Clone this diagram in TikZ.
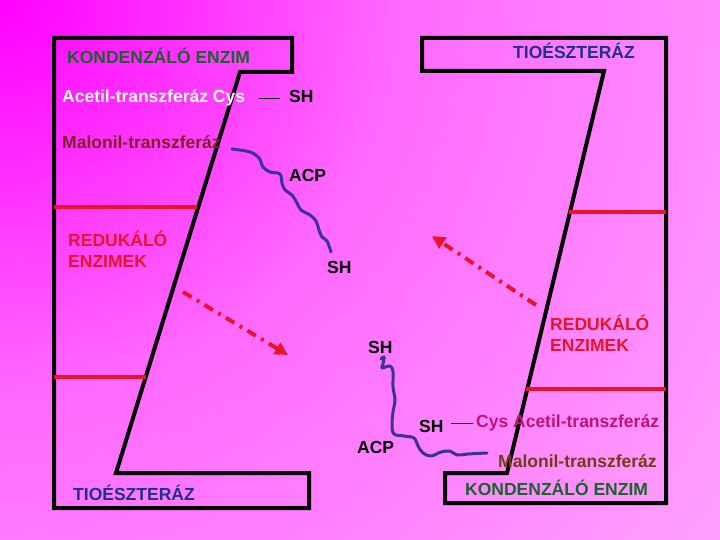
\documentclass[tikz,border=0pt]{standalone}
\usepackage{fontspec}
\setmainfont{Liberation Sans}
\usetikzlibrary{arrows.meta}
\definecolor{bgA}{RGB}{255,0,255}
\definecolor{bgB}{RGB}{255,105,255}
\definecolor{bgC}{RGB}{255,148,255}
\definecolor{bgD}{RGB}{255,182,255}
\definecolor{bgE}{RGB}{255,212,255}
\definecolor{kgreen}{RGB}{25,100,40}
\definecolor{kblue}{RGB}{30,50,140}
\definecolor{kred}{RGB}{232,20,40}
\definecolor{kmaroon}{RGB}{125,35,35}
\definecolor{kbrown}{RGB}{115,60,25}
\definecolor{kmag}{RGB}{190,20,120}
\definecolor{kchain}{RGB}{60,50,150}
\pgfdeclareradialshading{bgshade}{\pgfpoint{0bp}{0bp}}{color(0bp)=(bgA); color(11bp)=(bgB); color(22bp)=(bgC); color(30bp)=(bgD); color(50bp)=(bgE)}
\tikzset{
  lbl/.style={inner sep=0pt, anchor=base west, font=\bfseries\fontsize{17.5}{21}\selectfont},
  outline/.style={line width=4pt, draw=black, line join=miter},
  redline/.style={line width=4pt, draw=kred},
  chain/.style={line width=3pt, draw=kchain, line cap=round, line join=round},
  redarrow/.style={line width=4pt, draw=kred, dash pattern=on 10pt off 6pt on 3pt off 6pt, -{Triangle[length=13pt,width=13pt]}},
  bond/.style={line width=1pt, draw=black}
}
\begin{document}
\begin{tikzpicture}[x=1pt,y=-1pt]
\useasboundingbox (0,0) rectangle (720,540);
\begin{scope}
\clip (0,0) rectangle (720,540);
\shade[shading=bgshade] (-900,-900) rectangle (900,900);
\end{scope}
% enzyme outlines
\draw[outline] (54,38) -- (292,38) -- (292,72) -- (240,72) -- (116,473) -- (309,473) -- (309,508) -- (54,508) -- cycle;
\draw[outline] (422,38) -- (666,38) -- (666,503) -- (445,503) -- (445,473) -- (507,473) -- (604,71) -- (422,71) -- cycle;
% red separators
\draw[redline] (54,207) -- (197,207);
\draw[redline] (54,377) -- (146,377);
\draw[redline] (569,212.5) -- (666,212.5);
\draw[redline] (526,389) -- (666,389);
% labels left
\node[lbl, text=kgreen] (kond1) at (67,64) {KONDENZÁLÓ ENZIM};
\node[lbl, text=white] (acet1) at (62,103) {Acetil-transzferáz Cys};
\node[lbl, text=black] (sh1) at (289,103) {SH};
\node[lbl, text=kmaroon] (mal1) at (62,149) {Malonil-transzferáz};
\node[lbl, text=black] (acp1) at (289,182) {ACP};
\node[lbl, text=black] (sh2) at (327,273) {SH};
\node[lbl, text=kred, align=left] (red1) at (68,267) {REDUKÁLÓ\\[0pt]ENZIMEK};
\node[lbl, text=kblue] (tio2) at (73,500) {TIOÉSZTERÁZ};
% labels right
\node[lbl, text=kblue] (tio1) at (513,59) {TIOÉSZTERÁZ};
\node[lbl, text=kred, align=left] (red2) at (550,351) {REDUKÁLÓ\\[0pt]ENZIMEK};
\node[lbl, text=black] (sh3) at (368,353) {SH};
\node[lbl, text=black] (sh4) at (419,432) {SH};
\node[lbl, text=kmag] (acet2) at (476,427) {Cys Acetil-transzferáz};
\node[lbl, text=black] (acp2) at (357,453) {ACP};
\node[lbl, text=kbrown] (mal2) at (498,467) {Malonil-transzferáz};
\node[lbl, text=kgreen] (kond2) at (465,495) {KONDENZÁLÓ ENZIM};
% bonds
\coordinate (b1a) at (259,99); \coordinate (b1b) at (280,99);
\draw[bond] (b1a) -- (b1b);
\coordinate (b2a) at (451,423); \coordinate (b2b) at (473,423);
\draw[bond] (b2a) -- (b2b);
% ACP chains
\draw[chain] plot[smooth, tension=0.6] coordinates {(232,149) (250,152) (259,158) (263,167) (270,172) (280,174) (282,183) (285,190) (292,195) (297,203) (301,210) (310,215) (316,221) (319,230) (322,237) (327,241) (331,252)};
\draw[chain] plot[smooth, tension=0.6] coordinates {(381,359) (384,357) (383,364) (382,368) (390,366) (393,372) (393,387) (395,400) (393,412) (392,425) (394,434) (404,436) (414,438) (418,446) (423,453) (431,456) (441,452) (450,451) (457,455) (468,454) (487,453)};
% arrows
\coordinate (a1s) at (183,292); \coordinate (a1e) at (288,355);
\draw[redarrow] (a1s) -- (a1e);
\coordinate (a2s) at (536,305); \coordinate (a2e) at (432,236);
\draw[redarrow] (a2s) -- (a2e);
\end{tikzpicture}
\end{document}
